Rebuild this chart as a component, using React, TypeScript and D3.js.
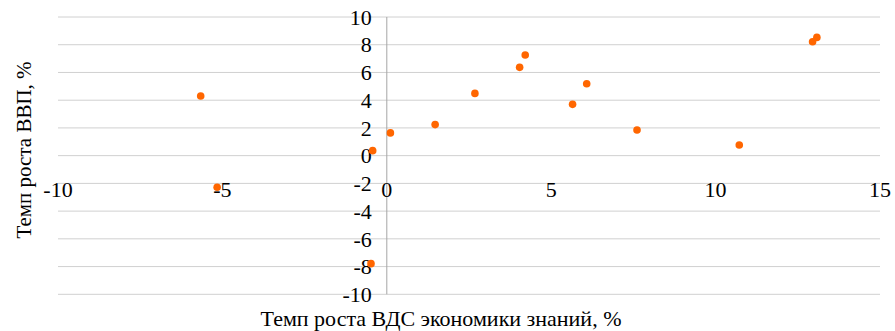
import React from "react";
import * as d3 from "d3";

// Growth of knowledge-economy GVA (x, %) vs GDP growth (y, %)
const gvaGrowth = [-5.66, -5.16, -0.48, -0.43, 0.11, 1.47, 2.68, 4.04, 4.21, 5.65, 6.08, 7.61, 10.72, 12.95, 13.08];
const gdpGrowth = [4.3, -2.28, -7.79, 0.36, 1.64, 2.24, 4.49, 6.37, 7.26, 3.7, 5.19, 1.85, 0.77, 8.22, 8.53];
const xTicks = [-10, -5, 0, 5, 10, 15];
const yTicks = [-10, -8, -6, -4, -2, 0, 2, 4, 6, 8, 10];
const xTitle = "Темп роста ВДС экономики знаний, %";
const yTitle = "Темп роста ВВП, %";

const W = 895;
const H = 331;
const font = "'Liberation Serif', 'Times New Roman', serif";

export default function App() {
  const x = d3.scaleLinear().domain([-10, 15]).range([58, 880]);
  const y = d3.scaleLinear().domain([-10, 10]).range([294.3, 17]);
  const points = gvaGrowth.map((v, i) => ({ x: v, y: gdpGrowth[i] }));
  const txt = { fontFamily: font, fontSize: 22 };

  return (
    <svg
      width={W}
      height={H}
      style={{ position: "absolute", left: 0, top: 0, background: "#fff" }}
    >
      {yTicks.map((t) => (
        <line key={"g" + t} x1={x(-10)} x2={x(15)} y1={y(t)} y2={y(t)} stroke="#d0d0d0" strokeWidth={1} />
      ))}
      <line x1={x(0)} x2={x(0)} y1={y(10)} y2={y(-10)} stroke="#a6a6a6" strokeWidth={1} />
      {yTicks.map((t) => (
        <text key={"yl" + t} x={x(0) - 15} y={y(t)} dy="0.35em" textAnchor="end" style={txt} fill="#000">
          {t}
        </text>
      ))}
      {xTicks.map((t) => (
        <text key={"xl" + t} x={x(t)} y={y(0) + 41} textAnchor="middle" style={txt} fill="#000">
          {t}
        </text>
      ))}
      {points.map((p, i) => (
        <circle key={"p" + i} cx={x(p.x)} cy={y(p.y)} r={3.8} fill="#ff6600" />
      ))}
      <text x={(263 + 619) / 2} y={326} textAnchor="middle" style={txt} fill="#000">
        {xTitle}
      </text>
      <text
        transform={`translate(31, 150) rotate(-90)`}
        textAnchor="middle"
        style={{ ...txt, fontSize: 21 }}
        fill="#000"
      >
        {yTitle}
      </text>
    </svg>
  );
}
